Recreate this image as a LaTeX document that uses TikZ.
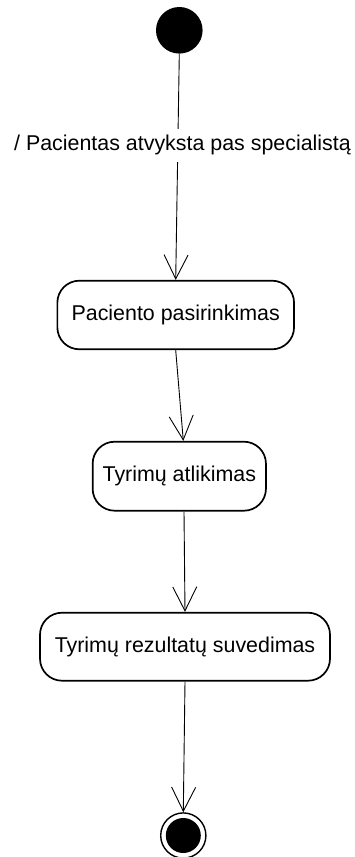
\documentclass[tikz,border=0pt]{standalone}
\usepackage{fontspec}
\setmainfont{Liberation Sans}
\usetikzlibrary{arrows.meta}
\begin{document}
\begin{tikzpicture}[x=1pt,y=-1pt,
  state/.style={draw=black,line width=1.7pt,rounded corners=22pt,fill=white,
    font=\fontsize{21.4}{25}\selectfont,inner sep=0pt},
  flow/.style={draw=black,line width=0.9pt,
    -{Straight Barb[length=24pt,width=24pt,line width=0.9pt]}},
  guard/.style={fill=white,font=\fontsize{21.4}{25}\selectfont,
    text height=16pt,text depth=5pt,inner xsep=2pt,inner ysep=6pt}]
  \useasboundingbox (0,0) rectangle (355,857);

  % initial state
  \node[circle,fill=black,minimum size=46.6pt,inner sep=0pt] (start) at (179.3,30.3) {};

  % activity states
  \node[state,minimum width=236.7pt,minimum height=68.6pt] (pick) at (175.7,315) {Paciento pasirinkimas};
  \node[state,minimum width=173.3pt,minimum height=69pt] (exam) at (179.3,476.2) {Tyrimų atlikimas};
  \node[state,minimum width=290pt,minimum height=68pt] (sum) at (185,646.7) {Tyrimų rezultatų suvedimas};

  % final state
  \node[circle,draw=black,line width=1.4pt,fill=white,minimum size=45.2pt,inner sep=0pt] (end) at (183.3,835.5) {};
  \node[circle,fill=black,minimum size=35pt,inner sep=0pt] (endcore) at (end.center) {};

  % transitions
  \draw[flow] (start.south) -- (pick.north);
  \node[guard,anchor=base] (evt) at (182.5,150.7) {/ Pacientas atvyksta pas specialistą};
  \draw[flow] (pick.south) -- ([xshift=4pt]exam.north);
  \draw[flow] ([xshift=4.7pt]exam.south) -- (sum.north);
  \draw[flow] (sum.south) -- (end.north);
\end{tikzpicture}
\end{document}
